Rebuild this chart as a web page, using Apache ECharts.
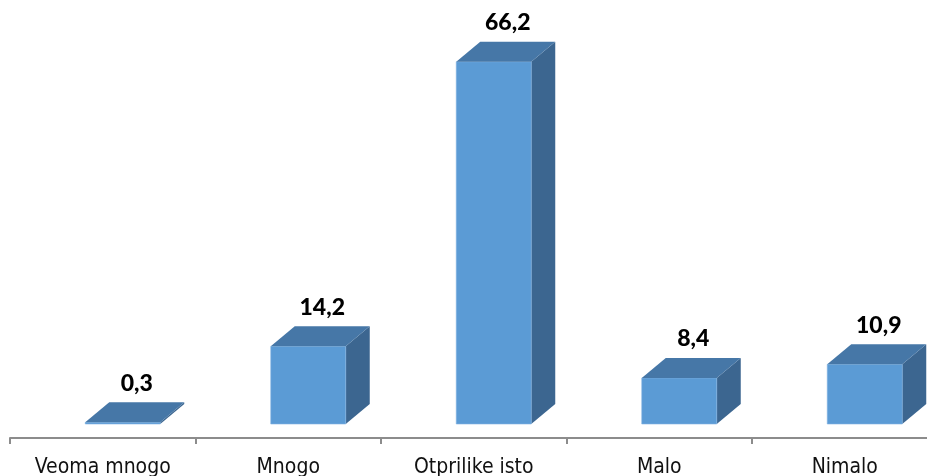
<!DOCTYPE html>
<html>
<head>
<meta charset="utf-8">
<script src="https://cdn.jsdelivr.net/npm/echarts@6/dist/echarts.min.js"></script>
<style>
  html, body { margin: 0; padding: 0; background: #fff; }
  #chart { width: 927px; height: 476px; }
</style>
</head>
<body>
<div id="chart"></div>
<script>
const categories = ["Veoma mnogo", "Mnogo", "Otprilike isto", "Malo", "Nimalo"];
const values = [0.3, 14.2, 66.2, 8.4, 10.9];
const valueLabels = ["0,3", "14,2", "66,2", "8,4", "10,9"];

const FRONT = "#5b9bd5";
const TOP = "#4677a7";
const SIDE = "#3c6690";
const DX = 24, DY = 20;

const chart = echarts.init(document.getElementById("chart"));

function renderBar(params, api) {
  const i = api.value(0);
  const base = api.coord([i, 0]);
  const top = api.coord([i, api.value(1)]);
  const cx = base[0];
  const x0 = cx - 17.5, x1 = cx + 57.5;
  const yb = base[1], yt = top[1];
  return {
    type: "group",
    children: [
      {
        type: "polygon",
        shape: { points: [[x1, yb], [x1 + DX, yb - DY], [x1 + DX, yt - DY], [x1, yt]] },
        style: { fill: SIDE }
      },
      {
        type: "rect",
        shape: { x: x0, y: yt, width: x1 - x0, height: Math.max(yb - yt, 0.5) },
        style: { fill: FRONT, stroke: "#7fb2e0", lineWidth: 0.6 }
      },
      {
        type: "polygon",
        shape: { points: [[x0, yt], [x1, yt], [x1 + DX, yt - DY], [x0 + DX, yt - DY]] },
        style: { fill: TOP }
      },
      {
        type: "text",
        style: {
          text: valueLabels[params.dataIndex],
          x: (x0 + x1) / 2 + 14,
          y: yt - DY - 19,
          align: "center",
          verticalAlign: "middle",
          font: "900 23px Lato, 'Open Sans', sans-serif",
          fill: "#000"
        }
      }
    ]
  };
}

chart.setOption({
  animation: false,
  grid: { left: 10, width: 927.5, top: 0, bottom: 38, outerBoundsMode: "none", containLabel: false },
  xAxis: {
    type: "category",
    data: categories,
    axisLine: { onZero: false, lineStyle: { color: "#8c8c8c", width: 2 } },
    axisTick: { show: true, length: 6, lineStyle: { color: "#8c8c8c", width: 2 } },
    axisLabel: {
      color: "#111",
      fontSize: 21,
      fontFamily: "'DejaVu Sans Condensed', 'DejaVu Sans', sans-serif",
      margin: 19
    }
  },
  yAxis: { type: "value", min: -2.56, max: 77.5, show: false },
  series: [
    {
      type: "custom",
      renderItem: renderBar,
      data: values.map((v, i) => [i, v]),
      clip: false
    }
  ]
});
</script>
</body>
</html>
